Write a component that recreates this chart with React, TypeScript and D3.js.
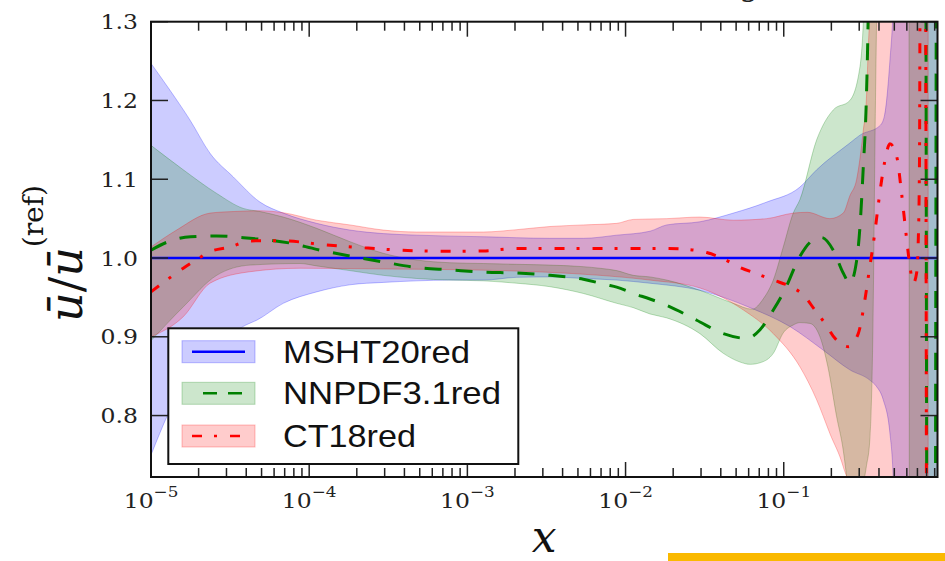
import React from 'react';
import * as d3 from 'd3';

// ---------- data (x given as log10 x) ----------
const yTickValues = [0.8, 0.9, 1.0, 1.1, 1.2, 1.3];
const yTickLabels = ['0.8', '0.9', '1.0', '1.1', '1.2', '1.3'];
const xMajorExps = [-5, -4, -3, -2, -1];
const xTickSup = ['\u22125', '\u22124', '\u22123', '\u22122', '\u22121'];
const legendLabels = ['MSHT20red', 'NNPDF3.1red', 'CT18red'];

const mshtCentral: [number, number][] = [[-5, 1.0], [0, 1.0]];
const mshtUpper: [number, number][] = [
  [-5, 1.247], [-4.88, 1.213], [-4.753, 1.175], [-4.627, 1.133], [-4.48, 1.103], [-4.311, 1.071],
  [-4.164, 1.057], [-3.953, 1.044], [-3.742, 1.0355], [-3.532, 1.031], [-3.32, 1.029], [-2.899, 1.027],
  [-2.478, 1.025], [-2.267, 1.025], [-2.056, 1.029], [-1.846, 1.034], [-1.74, 1.042], [-1.53, 1.046],
  [-1.319, 1.057], [-1.108, 1.071], [-0.898, 1.09], [-0.792, 1.112], [-0.582, 1.146], [-0.518, 1.156],
  [-0.392, 1.168], [-0.364, 1.18], [-0.329, 1.25], [-0.308, 1.32], [-0.25, 2.0], [0, 2.0],
];
const mshtLower: [number, number][] = [
  [-5, 0.75], [-4.89, 0.803], [-4.8, 0.84], [-4.7, 0.867], [-4.6, 0.888], [-4.5, 0.903], [-4.4, 0.915],
  [-4.332, 0.921], [-4.164, 0.9425], [-3.953, 0.957], [-3.742, 0.966], [-3.532, 0.969], [-3.32, 0.971],
  [-3.11, 0.972], [-2.899, 0.972], [-2.688, 0.9755], [-2.478, 0.976], [-2.267, 0.974], [-2.056, 0.972],
  [-1.846, 0.968], [-1.53, 0.959], [-1.213, 0.937], [-0.961, 0.913], [-0.75, 0.883], [-0.582, 0.858],
  [-0.456, 0.845], [-0.414, 0.837], [-0.371, 0.82], [-0.329, 0.778], [-0.308, 0.72], [-0.25, 0.0], [0, 0.0],
];

const nnpdfCentral: [number, number][] = [
  [-5, 1.01], [-4.9, 1.02], [-4.75, 1.027], [-4.585, 1.028], [-4.374, 1.025], [-4.121, 1.019],
  [-3.953, 1.011], [-3.742, 1.0025], [-3.532, 0.995], [-3.32, 0.988], [-3.11, 0.985], [-2.899, 0.982],
  [-2.688, 0.981], [-2.478, 0.978], [-2.267, 0.973], [-2.12, 0.966], [-2.056, 0.963], [-1.951, 0.955],
  [-1.846, 0.948], [-1.74, 0.94], [-1.55, 0.921], [-1.382, 0.904], [-1.234, 0.898], [-1.15, 0.909],
  [-1.066, 0.934], [-0.995, 0.959], [-0.898, 1.002], [-0.814, 1.023], [-0.76, 1.026], [-0.687, 1.01],
  [-0.624, 0.981], [-0.582, 0.968], [-0.539, 0.997], [-0.518, 1.04], [-0.497, 1.116], [-0.478, 1.2],
  [-0.467, 1.298], [-0.45, 1.6], [-0.105, 1.6], [-0.092, 0.4], [-0.045, 0.4], [-0.032, 1.6], [0, 1.6],
];
const nnpdfUpper: [number, number][] = [
  [-5, 1.143], [-4.796, 1.112], [-4.585, 1.082], [-4.417, 1.063], [-4.311, 1.059], [-4.164, 1.052],
  [-3.953, 1.0377], [-3.742, 1.0207], [-3.532, 1.006], [-3.32, 0.9975], [-3.11, 0.994], [-2.899, 0.993],
  [-2.688, 0.992], [-2.478, 0.991], [-2.267, 0.989], [-2.162, 0.987], [-2.056, 0.984], [-1.951, 0.978],
  [-1.846, 0.976], [-1.74, 0.972], [-1.53, 0.959], [-1.319, 0.9425], [-1.2, 0.935], [-1.13, 0.948],
  [-1.066, 0.972], [-1.003, 1.014], [-0.94, 1.057], [-0.898, 1.074], [-0.792, 1.15], [-0.687, 1.188],
  [-0.582, 1.2], [-0.518, 1.243], [-0.497, 1.3], [-0.47, 1.5], [-0.4, 2.0], [0, 2.0],
];
const nnpdfLower: [number, number][] = [
  [-5, 0.895], [-4.796, 0.938], [-4.585, 0.978], [-4.374, 0.991], [-4.058, 0.993], [-3.953, 0.99],
  [-3.742, 0.984], [-3.532, 0.978], [-3.32, 0.974], [-3.11, 0.972], [-2.899, 0.971], [-2.688, 0.968],
  [-2.478, 0.9636], [-2.267, 0.955], [-2.056, 0.9425], [-1.951, 0.937], [-1.846, 0.929], [-1.74, 0.924],
  [-1.53, 0.904], [-1.382, 0.879], [-1.277, 0.868], [-1.213, 0.865], [-1.15, 0.867], [-1.066, 0.879],
  [-1.003, 0.905], [-0.94, 0.915], [-0.898, 0.918], [-0.835, 0.917], [-0.771, 0.9], [-0.721, 0.862],
  [-0.666, 0.799], [-0.624, 0.756], [-0.59, 0.7], [-0.55, 0.62], [-0.508, 0.7], [-0.478, 0.735],
  [-0.456, 0.769], [-0.437, 0.9], [-0.42, 1.2], [-0.39, 1.5], [-0.21, 1.5], [-0.2, -1.0], [0, -1.0],
];

const ct18Central: [number, number][] = [
  [-5, 0.957], [-4.901, 0.972], [-4.796, 0.987], [-4.711, 0.998], [-4.627, 1.008], [-4.501, 1.014],
  [-4.374, 1.0216], [-4.269, 1.022], [-4.142, 1.0216], [-3.911, 1.017], [-3.658, 1.013], [-3.426, 1.01],
  [-3.11, 1.0085], [-2.899, 1.009], [-2.688, 1.012], [-2.478, 1.012], [-2.267, 1.012], [-2.0, 1.012],
  [-1.74, 1.012], [-1.614, 1.011], [-1.487, 1.007], [-1.382, 0.999], [-1.277, 0.988], [-1.171, 0.98],
  [-1.066, 0.972], [-0.961, 0.964], [-0.876, 0.953], [-0.803, 0.934], [-0.739, 0.917], [-0.676, 0.898],
  [-0.592, 0.8875], [-0.529, 0.904], [-0.487, 0.947], [-0.456, 0.989], [-0.425, 1.031], [-0.404, 1.065],
  [-0.381, 1.099], [-0.36, 1.124], [-0.329, 1.145], [-0.286, 1.129], [-0.255, 1.082], [-0.227, 1.031],
  [-0.202, 0.989], [-0.181, 0.968], [-0.16, 0.981], [-0.15, 1.019], [-0.142, 1.12], [-0.134, 1.6],
  [-0.106, 1.6], [-0.094, 0.4], [0, 0.4],
];
const ct18Upper: [number, number][] = [
  [-5, 1.014], [-4.838, 1.0355], [-4.627, 1.057], [-4.48, 1.059], [-4.311, 1.06], [-4.164, 1.0575],
  [-3.953, 1.048], [-3.742, 1.042], [-3.532, 1.0355], [-3.32, 1.033], [-2.899, 1.033], [-2.688, 1.036],
  [-2.478, 1.04], [-2.267, 1.042], [-2.056, 1.044], [-1.951, 1.049], [-1.74, 1.05], [-1.53, 1.052],
  [-1.319, 1.048], [-1.108, 1.05], [-0.94, 1.057], [-0.85, 1.058], [-0.708, 1.05], [-0.624, 1.057],
  [-0.582, 1.079], [-0.539, 1.1], [-0.497, 1.162], [-0.478, 1.2], [-0.467, 1.26], [-0.456, 1.32],
  [-0.42, 2.0], [-0.087, 2.0],
];
const ct18Lower: [number, number][] = [
  [-5, 0.9], [-4.796, 0.9255], [-4.627, 0.968], [-4.374, 0.9826], [-4.058, 0.987], [-3.5, 0.986],
  [-3.0, 0.985], [-2.5, 0.982], [-2.162, 0.978], [-1.846, 0.972], [-1.53, 0.962], [-1.255, 0.934],
  [-1.066, 0.904], [-0.898, 0.862], [-0.792, 0.82], [-0.708, 0.777], [-0.624, 0.735], [-0.58, 0.7],
  [-0.5, 0.0], [-0.087, 0.0],
];

// ---------- layout ----------
const W = 945;
const H = 561;
const PL = 151;
const PR = 937.5;
const PT = 21.7;
const PB = 477;

const xScale = d3.scaleLog().domain([1e-5, Math.pow(10, -0.028)]).range([PL, PR]);
const yScale = d3.scaleLinear().domain([0.722, 1.3]).range([PB, PT]);

const lineGen = d3
  .line<[number, number]>()
  .x((d) => xScale(Math.pow(10, d[0])))
  .y((d) => yScale(d[1]))
  .curve(d3.curveMonotoneX);

function bandPath(upper: [number, number][], lower: [number, number][]) {
  const up = lineGen(upper) || '';
  const lo = (lineGen([...lower].reverse()) || '').replace(/^M/, 'L');
  return up + lo + 'Z';
}

const BLUE = 'rgb(0,0,255)';
const GREEN = 'rgb(0,128,0)';
const RED = 'rgb(255,0,0)';
const bandFill = (c: string) => c.replace('rgb', 'rgba').replace(')', ',0.2)');
const bandEdge = (c: string) => c.replace('rgb', 'rgba').replace(')', ',0.25)');

const bands = [
  { upper: mshtUpper, lower: mshtLower, color: BLUE },
  { upper: nnpdfUpper, lower: nnpdfLower, color: GREEN },
  { upper: ct18Upper, lower: ct18Lower, color: RED },
];
const GREEN_DASH = '17,14';
const RED_DASH = '10,12,3,13';
const lines = [
  { data: mshtCentral, color: BLUE, dash: undefined as string | undefined, w: 2.5 },
  { data: nnpdfCentral, color: GREEN, dash: GREEN_DASH, w: 3 },
  { data: ct18Central, color: RED, dash: RED_DASH, w: 3 },
];

export default function App() {
  const [xmin, xmax] = xScale.domain();
  const minorTicks: number[] = [];
  for (let e = -5; e <= -1; e++) {
    for (let m = 2; m <= 9; m++) {
      const v = m * Math.pow(10, e);
      if (v > xmin && v < xmax) minorTicks.push(v);
    }
  }
  const majorTicks = xMajorExps.map((e) => Math.pow(10, e));
  const tickColor = '#222';

  const legendRows = [
    { label: legendLabels[0], color: BLUE, dash: undefined as string | undefined, off: 0, len: 187 },
    { label: legendLabels[1], color: GREEN, dash: '14,11', off: 14, len: 218 },
    { label: legendLabels[2], color: RED, dash: RED_DASH, off: 0, len: 133 },
  ];
  const legendRowY = [351.7, 393.3, 436];

  return (
    <svg
      width={W}
      height={H}
      viewBox={`0 0 ${W} ${H}`}
      style={{ position: 'absolute', left: 0, top: 0, display: 'block', background: '#fff' }}
    >
      <defs>
        <clipPath id="plotClip">
          <rect x={PL} y={PT} width={PR - PL} height={PB - PT} />
        </clipPath>
      </defs>
      <rect x={0} y={0} width={W} height={H} fill="#fff" />

      {/* cut-off title (only the descender is visible in the reference) */}
      <text x={749} y={-4} fontFamily="DejaVu Serif" fontSize={30} textAnchor="middle" fill="#222">
        g
      </text>

      <g clipPath="url(#plotClip)">
        {bands.map((b, i) => (
          <path
            key={'band' + i}
            d={bandPath(b.upper, b.lower)}
            fill={bandFill(b.color)}
            stroke={bandEdge(b.color)}
            strokeWidth={1}
          />
        ))}
        {lines.map((l, i) => (
          <path
            key={'line' + i}
            d={lineGen(l.data) || ''}
            fill="none"
            stroke={l.color}
            strokeWidth={l.w}
            strokeDasharray={l.dash}
          />
        ))}
      </g>

      {/* ticks */}
      <g stroke={tickColor} strokeWidth={1.5}>
        {majorTicks.map((v, i) => (
          <g key={'xM' + i}>
            <line x1={xScale(v)} x2={xScale(v)} y1={PB} y2={PB - 15} />
            <line x1={xScale(v)} x2={xScale(v)} y1={PT} y2={PT + 15} />
          </g>
        ))}
        {minorTicks.map((v, i) => (
          <g key={'xm' + i}>
            <line x1={xScale(v)} x2={xScale(v)} y1={PB} y2={PB - 9} />
            <line x1={xScale(v)} x2={xScale(v)} y1={PT} y2={PT + 9} />
          </g>
        ))}
        {yTickValues.map((v, i) => (
          <g key={'y' + i}>
            <line x1={PL} x2={PL + 17} y1={yScale(v)} y2={yScale(v)} />
            <line x1={PR} x2={PR - 17} y1={yScale(v)} y2={yScale(v)} />
          </g>
        ))}
      </g>

      {/* frame */}
      <rect x={PL} y={PT} width={PR - PL} height={PB - PT} fill="none" stroke="#111" strokeWidth={2} />

      {/* y tick labels */}
      {yTickValues.map((v, i) => (
        <text
          key={'yl' + i}
          transform={`translate(138, ${yScale(v)}) scale(1.12, 1)`}
          dy="0.36em"
          textAnchor="end"
          fontFamily="DejaVu Serif"
          fontSize={21}
          fill="#222"
        >
          {yTickLabels[i]}
        </text>
      ))}

      {/* x tick labels */}
      {majorTicks.map((v, i) => (
        <text
          key={'xl' + i}
          transform={`translate(${xScale(v)}, 508) scale(1.12, 1)`}
          textAnchor="middle"
          fontFamily="DejaVu Serif"
          fontSize={21}
          fill="#222"
        >
          10
          <tspan dy={-11} fontSize={15}>
            {xTickSup[i]}
          </tspan>
        </text>
      ))}

      {/* axis labels */}
      <text
        x={(PL + PR) / 2}
        y={552}
        textAnchor="middle"
        fontFamily="DejaVu Serif"
        fontStyle="italic"
        fontSize={44}
        fill="#111"
      >
        x
      </text>
      <text
        transform="translate(82, 322) rotate(-90)"
        fontFamily="DejaVu Serif"
        fontSize={46}
        fill="#111"
      >
        <tspan fontStyle="italic">{'\u016B'}</tspan>
        <tspan>/</tspan>
        <tspan fontStyle="italic">{'\u016B'}</tspan>
        <tspan dy={-39} fontSize={28}>
          (ref)
        </tspan>
      </text>

      {/* legend */}
      <rect x={168.3} y={328.3} width={350} height={135.7} fill="#fff" stroke="#111" strokeWidth={2} />
      {legendRows.map((r, i) => (
        <g key={'lg' + i}>
          <rect
            x={182}
            y={legendRowY[i] - 11}
            width={73}
            height={22}
            fill={bandFill(r.color)}
            stroke={bandEdge(r.color)}
            strokeWidth={1}
          />
          <line
            x1={192}
            x2={245}
            y1={legendRowY[i]}
            y2={legendRowY[i]}
            stroke={r.color}
            strokeWidth={2.5}
            strokeDasharray={r.dash}
            strokeDashoffset={r.off}
          />
          <text
            x={283}
            y={legendRowY[i] + 11}
            fontFamily="Liberation Sans"
            fontSize={30.5}
            textLength={r.len}
            lengthAdjust="spacingAndGlyphs"
            fill="#111"
          >
            {r.label}
          </text>
        </g>
      ))}

      {/* yellow bar at bottom right */}
      <rect x={668} y={553} width={W - 668} height={8} fill="rgb(250,185,0)" />
    </svg>
  );
}
